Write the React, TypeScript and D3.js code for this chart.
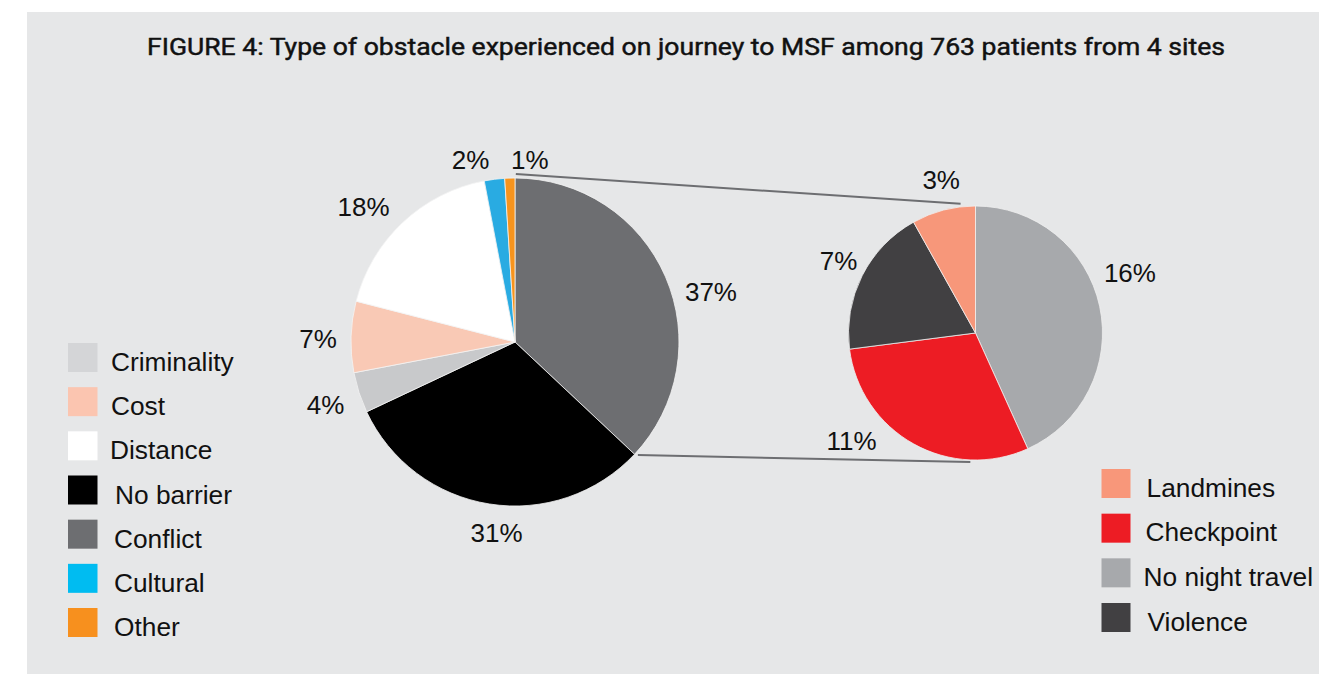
import React from "react";
import * as d3 from "d3";

const title = "FIGURE 4: Type of obstacle experienced on journey to MSF among 763 patients from 4 sites";

// Main pie (clockwise from 12 o'clock)
const mainCategories = ["Conflict", "No barrier", "Criminality", "Cost", "Distance", "Cultural", "Other"];
const mainValues = [37, 31, 4, 7, 18, 2, 1];
const mainColors = ["#6d6e71", "#000000", "#c8c9cb", "#f9c9b5", "#ffffff", "#29abe2", "#f7941d"];

// Conflict breakdown pie (clockwise from 12 o'clock)
const subCategories = ["No night travel", "Checkpoint", "Violence", "Landmines"];
const subValues = [16, 11, 7, 3];
const subColors = ["#a7a9ac", "#ed1c24", "#414042", "#f7977a"];

// Legends
const leftLegendLabels = ["Criminality", "Cost", "Distance", "No barrier", "Conflict", "Cultural", "Other"];
const leftLegendColors = ["#d4d5d7", "#fbc5b0", "#ffffff", "#000000", "#6d6e71", "#00bcf1", "#f7901e"];
const rightLegendLabels = ["Landmines", "Checkpoint", "No night travel", "Violence"];
const rightLegendColors = ["#f8977a", "#ed1c24", "#a7a9ac", "#414042"];

// label nudges (layout, px) relative to label-arc centroid
const mainLabelNudge: [number, number][] = [[17, 27], [12, -2], [-4, 3], [-2, 3], [-18, 7], [-20, 11], [21, 13]];
const subLabelNudge: [number, number][] = [[-2, -26], [-46, -32], [6, 0], [6, 2]];
const leftLegendTextDx = [43, 43, 42, 47, 46, 46, 46];
const rightLegendTextDx = [45, 44, 42, 46];

const W = 1319;
const H = 674;
const FONT = "'Liberation Sans', Arial, sans-serif";

export default function App() {
  const mainC = { x: 515, y: 342, r: 164 };
  const subC = { x: 975.5, y: 333, r: 127 };

  const pie = d3.pie<number>().sort(null).value((d) => d).startAngle(0).endAngle(2 * Math.PI);
  const mainArcs = pie(mainValues);
  const subArcs = pie(subValues);

  const mainArc = d3.arc<d3.PieArcDatum<number>>().innerRadius(0).outerRadius(mainC.r);
  const subArc = d3.arc<d3.PieArcDatum<number>>().innerRadius(0).outerRadius(subC.r);
  const mainLabelArc = d3.arc<d3.PieArcDatum<number>>().innerRadius(195).outerRadius(195);
  const subLabelArc = d3.arc<d3.PieArcDatum<number>>().innerRadius(160).outerRadius(160);

  const polar = (c: { x: number; y: number }, r: number, a: number) => [c.x + r * Math.sin(a), c.y - r * Math.cos(a)];

  const sumMain = d3.sum(mainValues);
  const conflictEnd = mainArcs[0].endAngle;
  const p1 = polar(mainC, mainC.r + 4, 0.005);
  const p2 = polar(subC, subC.r + 3, -0.115);
  const p3 = polar(mainC, mainC.r + 3, conflictEnd - 0.01);
  const p4 = polar(subC, subC.r + 2, Math.PI + 0.04);

  const leftY = d3.scaleLinear().domain([0, 6]).range([343, 608]);
  const rightY = d3.scaleLinear().domain([0, 3]).range([469, 603]);

  return (
    <svg width={W} height={H} style={{ position: "absolute", left: 0, top: 0 }}>
      <rect x={27} y={12} width={W - 27} height={H - 12} fill="#e6e7e8" />
      <text
        x={147}
        y={55}
        textLength={1078}
        lengthAdjust="spacingAndGlyphs"
        fontFamily="Roboto, 'DejaVu Sans', sans-serif"
        fontWeight={400}
        fontSize={23}
        fill="#111"
        stroke="#111"
        strokeWidth={0.45}
      >
        {title}
      </text>

      {/* connector lines */}
      <line x1={p1[0]} y1={p1[1]} x2={p2[0]} y2={p2[1]} stroke="#6d6e71" strokeWidth={2} />
      <line x1={p3[0]} y1={p3[1]} x2={p4[0]} y2={p4[1]} stroke="#6d6e71" strokeWidth={2} />

      <g transform={`translate(${mainC.x},${mainC.y})`}>
        {mainArcs.map((a, i) => (
          <path key={i} d={mainArc(a) || ""} fill={mainColors[i]} stroke="#f4f4f4" strokeWidth={0.8} />
        ))}
        {mainArcs.map((a, i) => {
          const [cx, cy] = mainLabelArc.centroid(a);
          return (
            <text
              key={i}
              x={cx + mainLabelNudge[i][0]}
              y={cy + mainLabelNudge[i][1]}
              dy="0.35em"
              textAnchor="middle"
              fontFamily={FONT}
              fontSize={26}
              fill="#111"
            >
              {Math.round((mainValues[i] / sumMain) * 100)}%
            </text>
          );
        })}
      </g>

      <g transform={`translate(${subC.x},${subC.y})`}>
        {subArcs.map((a, i) => (
          <path key={i} d={subArc(a) || ""} fill={subColors[i]} stroke="#f0f0f0" strokeWidth={0.8} />
        ))}
        {subArcs.map((a, i) => {
          const [cx, cy] = subLabelArc.centroid(a);
          return (
            <text
              key={i}
              x={cx + subLabelNudge[i][0]}
              y={cy + subLabelNudge[i][1]}
              dy="0.35em"
              textAnchor="middle"
              fontFamily={FONT}
              fontSize={26}
              fill="#111"
            >
              {subValues[i]}%
            </text>
          );
        })}
      </g>

      {leftLegendLabels.map((l, i) => (
        <g key={l} transform={`translate(68,${leftY(i)})`}>
          <rect width={29.5} height={29} fill={leftLegendColors[i]} />
          <text x={leftLegendTextDx[i]} y={28} fontFamily={FONT} fontSize={26.3} fill="#111">
            {l}
          </text>
        </g>
      ))}

      {rightLegendLabels.map((l, i) => (
        <g key={l} transform={`translate(1101.5,${rightY(i)})`}>
          <rect width={29} height={29} fill={rightLegendColors[i]} />
          <text x={rightLegendTextDx[i]} y={27.5} fontFamily={FONT} fontSize={26.3} fill="#111">
            {l}
          </text>
        </g>
      ))}
    </svg>
  );
}
